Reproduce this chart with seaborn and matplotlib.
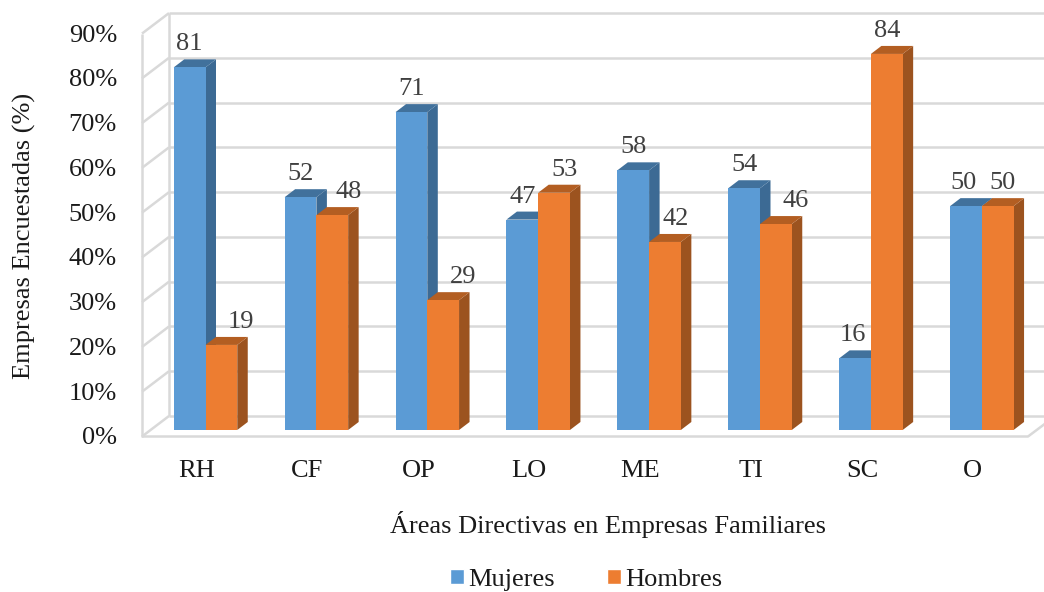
import pandas as pd
import seaborn as sns
import matplotlib.pyplot as plt
from matplotlib.patches import Polygon, Patch
from matplotlib.transforms import ScaledTranslation

areas = ["RH", "CF", "OP", "LO", "ME", "TI", "SC", "O"]
mujeres = [81, 52, 71, 47, 58, 54, 16, 50]
hombres = [19, 48, 29, 53, 42, 46, 84, 50]
y_ticks = [0, 10, 20, 30, 40, 50, 60, 70, 80, 90]

# hand placed data labels in the original, x shift from bar centre in pixels
shift_muj = [0, 0, 0, 0, 0, 0, -2, -2]
shift_hom = [20, 16, 20, 10, 11, 20, 0, 5]

W, H = 1044, 592
PX_X, X0 = 110.9, 205.5   # pixels per category, pixel of category 0
PX_Y, Y0 = 4.477, 430.0   # pixels per percent, pixel of 0 %
GRID = "#D9D9D9"
TEXT = "#1A1A1A"
FS = 19


def to_x(px):
    return (px - X0) / PX_X


def to_y(px):
    return (Y0 - px) / PX_Y


df = pd.DataFrame({
    "area": areas * 2,
    "valor": mujeres + hombres,
    "sexo": ["Mujeres"] * 8 + ["Hombres"] * 8,
})

sns.set_theme(style="white")
plt.rcParams["font.family"] = ["Liberation Serif", "DejaVu Serif"]

fig = plt.figure(figsize=(W / 100, H / 100), dpi=100)
# axes go a bit above the box so the 90% tick stays inside the limits
ax = fig.add_axes([142 / W, 1 - 436.5 / H, (1028 - 142) / W, (436.5 - 5) / H])

sns.barplot(data=df, x="area", y="valor", hue="sexo", order=areas,
            palette={"Mujeres": "#5B9BD5", "Hombres": "#ED7D31"},
            width=0.5726, gap=0, saturation=1, errorbar=None, legend=False, ax=ax)
ax.set(xlabel=None, ylabel=None)
sns.despine(ax=ax, left=True, bottom=True)
ax.patch.set_visible(False)

# walls and floor of the 3d box
wall_dx, wall_dy = 27 / PX_X, 20.5 / PX_Y
x_front, y_front = to_x(142), to_y(436.5)
line_kw = dict(color=GRID, lw=1.8, clip_on=False, zorder=1, solid_capstyle="butt")
for v in y_ticks:
    ax.plot([x_front, x_front + wall_dx], [y_front + v, y_front + v + wall_dy], **line_kw)
    ax.plot([x_front + wall_dx, to_x(1046)], [y_front + v + wall_dy] * 2, **line_kw)
ax.plot([x_front, x_front], [y_front, y_front + 90], **line_kw)
ax.plot([x_front + wall_dx] * 2, [y_front + wall_dy, y_front + 90 + wall_dy], **line_kw)
ax.plot([x_front, to_x(1028), to_x(1046)], [y_front, y_front, to_y(423)], **line_kw)

# bar depth, sides and tops built from the seaborn bars
depth_x, depth_y = 10.5 / PX_X, 8 / PX_Y
styles = [("#3C6A94", "#41719C", 2.5, 3.0, shift_muj), ("#9C531F", "#B35E22", 3.2, 3.4, shift_hom)]
bars = [b for b in ax.patches]
for i, (side, top, z_back, z_front, shifts) in enumerate(styles):
    for j, bar in enumerate(bars[i * 8:(i + 1) * 8]):
        x, w, h = bar.get_x(), bar.get_width(), bar.get_height()
        bar.set_zorder(z_front)
        bar.set_linewidth(0)
        ax.add_patch(Polygon([(x + w, 0), (x + w + depth_x, depth_y),
                              (x + w + depth_x, h + depth_y), (x + w, h)],
                             fc=side, lw=0, zorder=z_back))
        ax.add_patch(Polygon([(x, h), (x + depth_x, h + depth_y),
                              (x + w + depth_x, h + depth_y), (x + w, h)],
                             fc=top, lw=0, zorder=z_back))
        ax.annotate(str(int(h)), (x + w / 2, h), xytext=(shifts[j] * 0.72, 23 * 0.72),
                    textcoords="offset points", ha="center", va="center",
                    fontsize=FS, color="#404040", zorder=5, annotation_clip=False)

ax.set_xticks(range(8), areas)
ax.set_yticks(y_ticks, [f"{v}%" for v in y_ticks])
# set the limits last, set_yticks would widen them
ax.set_xlim(to_x(142), to_x(1028))
ax.set_ylim(to_y(436.5), to_y(5))
ax.tick_params(axis="both", length=0, labelsize=FS, labelcolor=TEXT)
ax.tick_params(axis="x", pad=17)
ax.tick_params(axis="y", pad=18)
shift_x = ScaledTranslation(-9 / 100, 0, fig.dpi_scale_trans)
shift_y = ScaledTranslation(0, -6 / 100, fig.dpi_scale_trans)
for lab in ax.get_xticklabels():
    lab.set_transform(lab.get_transform() + shift_x)
for lab in ax.get_yticklabels():
    lab.set_transform(lab.get_transform() + shift_y)

fig.text(608 / W, 1 - 524 / H, "Áreas Directivas en Empresas Familiares",
         ha="center", va="center", fontsize=FS, color=TEXT)
fig.text(24 / W, 1 - 236 / H, "Empresas Encuestadas (%)", rotation=90,
         ha="center", va="center", fontsize=FS, color=TEXT)

handles = [Patch(fc="#5B9BD5", label="Mujeres"), Patch(fc="#ED7D31", label="Hombres")]
fig.legend(handles=handles, ncol=2, frameon=False, fontsize=FS, loc="center",
           bbox_to_anchor=(586 / W, 1 - 580 / H), handlelength=0.53, handleheight=0.53,
           handletextpad=0.15, columnspacing=2.0, labelcolor=TEXT, borderpad=0)

plt.savefig("out.png", dpi=100)
